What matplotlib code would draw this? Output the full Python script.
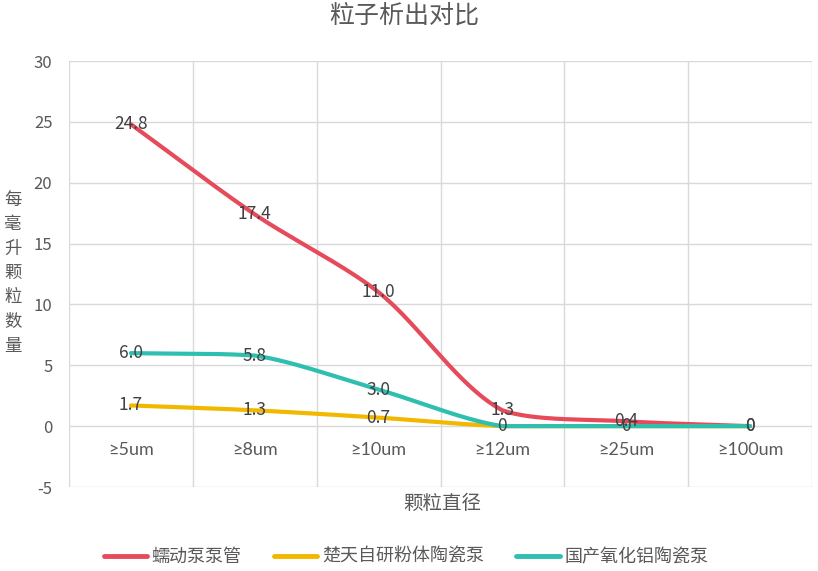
import numpy as np
import matplotlib
matplotlib.use("Agg")
import matplotlib.pyplot as plt
from matplotlib.lines import Line2D

plt.rcParams['font.family'] = ['Noto Sans CJK SC', 'DejaVu Sans']

title = "粒子析出对比"
categories = ["≥5um", "≥8um", "≥10um", "≥12um", "≥25um", "≥100um"]
series_names = ["蠕动泵泵管", "楚天自研粉体陶瓷泵", "国产氧化铝陶瓷泵"]
red_vals = [24.8, 17.4, 11.0, 1.3, 0.4, 0.0]
yellow_vals = [1.7, 1.3, 0.7, 0.0, 0.0, 0.0]
teal_vals = [6.0, 5.8, 3.0, 0.0, 0.0, 0.0]
red_labels = ["24.8", "17.4", "11.0", "1.3", "0.4", "0"]
yellow_labels = ["1.7", "1.3", "0.7", "", "", ""]
teal_labels = ["6.0", "5.8", "3.0", "0", "0", "0"]
y_ticks = [-5, 0, 5, 10, 15, 20, 25, 30]
x_label = "颗粒直径"
y_label = "每毫升颗粒数量"

colors = ["#E64B5C", "#F2B800", "#2EBFB1"]
text_color = "#595959"
grid_color = "#D9D9D9"

W, H = 818, 571
ax_left, ax_right, ax_top, ax_bottom = 69, 812, 61, 487
YMIN, YMAX = -5, 30


def smooth(xs, ys, sx, sy, f=0.3, n=50):
    # Bezier smoothing computed in pixel space (sx, sy = pixels per data unit)
    P = np.column_stack([np.asarray(xs, float) * sx, np.asarray(ys, float) * sy])
    m = len(P)
    cin = [None] * m
    cout = [None] * m
    for i in range(m):
        p0 = P[i - 1] if i > 0 else P[i]
        p2 = P[i + 1] if i < m - 1 else P[i]
        d01 = np.hypot(*(P[i] - p0))
        d12 = np.hypot(*(p2 - P[i]))
        tot = d01 + d12
        if tot == 0:
            cin[i] = cout[i] = P[i].copy()
            continue
        tv = p2 - p0
        cin[i] = P[i] - f * d01 / tot * tv
        cout[i] = P[i] + f * d12 / tot * tv
    t = np.linspace(0, 1, n)[:, None]
    pts = []
    for i in range(m - 1):
        a, d = P[i], P[i + 1]
        b, c = cout[i].copy(), cin[i + 1].copy()
        lo, hi = min(a[1], d[1]), max(a[1], d[1])
        b[1] = np.clip(b[1], lo, hi)
        c[1] = np.clip(c[1], lo, hi)
        seg = (1 - t) ** 3 * a + 3 * (1 - t) ** 2 * t * b + 3 * (1 - t) * t ** 2 * c + t ** 3 * d
        pts.append(seg)
    pts = np.vstack(pts)
    return pts[:, 0] / sx, pts[:, 1] / sy


fig = plt.figure(figsize=(W / 100, H / 100), dpi=100)
ax = fig.add_axes([ax_left / W, 1 - ax_bottom / H, (ax_right - ax_left) / W, (ax_bottom - ax_top) / H])

x = np.arange(len(categories))
ax.set_xlim(-0.5, len(categories) - 0.5)
ax.set_ylim(YMIN, YMAX)
ax.set_yticks(y_ticks)
ax.set_yticklabels([str(v) for v in y_ticks], fontsize=12, color=text_color)
ax.tick_params(axis='y', length=0, pad=12)
ax.set_xticks([])
for v in y_ticks:
    ax.axhline(v, color=grid_color, lw=1, zorder=0)
for b in np.arange(-0.5, len(categories), 1.0):
    ax.axvline(b, color=grid_color, lw=1, zorder=0)
for s in ax.spines.values():
    s.set_visible(False)

for i, c in enumerate(categories):
    ax.text(x[i], -2.0, c, ha='center', va='center', fontsize=13, color=text_color,
            family=['Lato', 'DejaVu Sans'])

px_per_x = (ax_right - ax_left) / len(categories)
px_per_y = (ax_bottom - ax_top) / (YMAX - YMIN)

all_vals = [red_vals, yellow_vals, teal_vals]
all_labels = [red_labels, yellow_labels, teal_labels]
for vals, col in zip(all_vals, colors):
    sxv, syv = smooth(x, vals, px_per_x, px_per_y)
    ax.plot(sxv, syv, color=col, lw=3, solid_capstyle='round', zorder=3)
for vals, labs in zip(all_vals, all_labels):
    for i, (v, l) in enumerate(zip(vals, labs)):
        if l:
            ax.text(x[i], v, l, ha='center', va='center', fontsize=12.5, color="#404040", zorder=5)

fig.text(404 / W, 1 - 16 / H, title, ha='center', va='center', fontsize=18, color=text_color)
fig.text(442 / W, 1 - 503 / H, x_label, ha='center', va='center', fontsize=14, color=text_color)
fig.text(13 / W, 1 - 273 / H, "\n".join(y_label), ha='center', va='center', fontsize=12.5,
         color=text_color, linespacing=1.45)

handles = [Line2D([0], [0], color=c, lw=3.5, solid_capstyle='round') for c in colors]
fig.legend(handles, series_names, loc='center', bbox_to_anchor=(406 / W, 1 - 557 / H), ncol=3,
           frameon=False, fontsize=13, labelcolor=text_color, handlelength=2.4, handletextpad=0.25,
           columnspacing=1.8)

fig.savefig("out.png", dpi=100)
